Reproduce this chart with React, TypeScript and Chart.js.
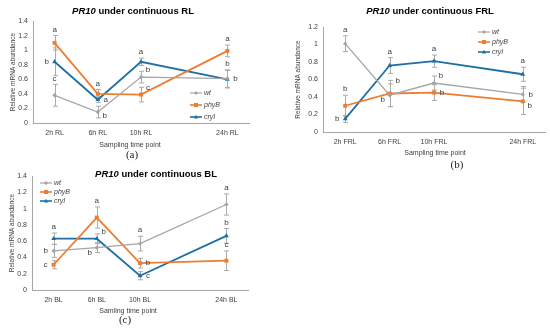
import React, { useEffect, useRef } from 'react';
import { Chart, registerables } from 'chart.js';

Chart.register(...registerables);

// ---------- data ----------
const seriesNames = ['wt', 'phyB', 'cryI'];
const seriesColors = ['#a5a5a5', '#ed7d31', '#1f6fa3'];
const seriesPoints = ['rectRot', 'rect', 'triangle'];

// Panel (a) continuous RL
const rlLabels = ['2h RL', '6h RL', '10h RL', '', '24h RL'];
const rlWt = [0.38, 0.15, 0.63, null, 0.61];
const rlWtErr = [0.15, 0.08, 0.08, null, 0.12];
const rlPhyB = [1.1, 0.4, 0.39, null, 0.99];
const rlPhyBErr = [0.1, 0.06, 0.1, null, 0.08];
const rlCryI = [0.84, 0.32, 0.84, null, 0.6];
const rlCryIErr = [0.19, 0.04, 0.05, null, 0.12];
const rlWtLetters = ['c', 'b', 'b', null, 'b'];
const rlPhyBLetters = ['a', 'a', 'c', null, 'a'];
const rlCryILetters = ['b', 'a', 'a', null, 'b'];

// Panel (b) continuous FRL
const frlLabels = ['2h FRL', '6h FRL', '10h FRL', '', '24h FRL'];
const frlWt = [1.01, 0.42, 0.56, null, 0.43];
const frlWtErr = [0.09, 0.13, 0.08, null, 0.09];
const frlPhyB = [0.3, 0.44, 0.45, null, 0.35];
const frlPhyBErr = [0.12, 0.15, 0.09, null, 0.15];
const frlCryI = [0.15, 0.76, 0.81, null, 0.66];
const frlCryIErr = [0.04, 0.09, 0.07, null, 0.08];
const frlWtLetters = ['a', 'b', 'b', null, 'b'];
const frlPhyBLetters = ['b', 'b', 'b', null, 'b'];
const frlCryILetters = ['b', 'a', 'a', null, 'a'];

// Panel (c) continuous BL
const blLabels = ['2h BL', '6h BL', '10h BL', '', '24h BL'];
const blWt = [0.48, 0.52, 0.57, null, 1.05];
const blWtErr = [0.08, 0.06, 0.09, null, 0.13];
const blPhyB = [0.31, 0.89, 0.33, null, 0.36];
const blPhyBErr = [0.05, 0.13, 0.06, null, 0.12];
const blCryI = [0.63, 0.63, 0.175, null, 0.665];
const blCryIErr = [0.07, 0.06, 0.05, null, 0.09];
const blWtLetters = ['b', 'b', 'a', null, 'a'];
const blPhyBLetters = ['c', 'a', 'b', null, 'c'];
const blCryILetters = ['a', 'b', 'c', null, 'b'];

// ---------- layout / style ----------
const FONT = "'Liberation Sans', Arial, sans-serif";
const TEXT = '#404040';

type Panel = {
  left: number; top: number; w: number; h: number;
  labels: string[];
  values: (number | null)[][];
  errors: (number | null)[][];
  letters: (string | null)[][];
  places: (string | null)[][];
  yMax: number;
  pad: { left: number; top: number; right: number; bottom: number };
  yWidth: number; xHeight: number;
  title: string; titleX: number; titleY: number;
  xTitle: string; xTitleX: number; xTitleY: number;
  tag: string; tagX: number; tagY: number;
  legendX: number; legendY: number; legendGap: number;
};

const panels: Panel[] = [
  {
    left: 0, top: 0, w: 275, h: 165,
    labels: rlLabels,
    values: [rlWt, rlPhyB, rlCryI],
    errors: [rlWtErr, rlPhyBErr, rlCryIErr],
    letters: [rlWtLetters, rlPhyBLetters, rlCryILetters],
    places: [
      ['top', 'belowRight', 'aboveRight', null, 'top'],
      ['top', 'top', 'aboveRight', null, 'top'],
      ['left', 'right', 'top', null, 'right'],
    ],
    yMax: 1.4,
    pad: { left: 9, top: 21, right: 26, bottom: 10 },
    yWidth: 24, xHeight: 32,
    title: ' under continuous RL', titleX: 133, titleY: 11,
    xTitle: 'Sampling time point', xTitleX: 130, xTitleY: 145,
    tag: '(a)', tagX: 132, tagY: 155,
    legendX: 190, legendY: 93, legendGap: 12,
  },
  {
    left: 275, top: 0, w: 275, h: 175,
    labels: frlLabels,
    values: [frlWt, frlPhyB, frlCryI],
    errors: [frlWtErr, frlPhyBErr, frlCryIErr],
    letters: [frlWtLetters, frlPhyBLetters, frlCryILetters],
    places: [
      ['top', 'belowLeft', 'aboveRight', null, 'right'],
      ['top', 'aboveRight2', 'right', null, 'belowRight'],
      ['left', 'top', 'top', null, 'top'],
    ],
    yMax: 1.2,
    pad: { left: 19, top: 27, right: 5, bottom: 20 },
    yWidth: 29, xHeight: 23,
    title: ' under continuous FRL', titleX: 155, titleY: 11,
    xTitle: 'Sampling time point', xTitleX: 160, xTitleY: 153,
    tag: '(b)', tagX: 182, tagY: 165,
    legendX: 203, legendY: 32, legendGap: 10,
  },
  {
    left: 0, top: 165, w: 275, h: 166,
    labels: blLabels,
    values: [blWt, blPhyB, blCryI],
    errors: [blWtErr, blPhyBErr, blCryIErr],
    letters: [blWtLetters, blPhyBLetters, blCryILetters],
    places: [
      ['left', 'belowLeft', 'top', null, 'top'],
      ['left', 'top', 'right', null, 'top'],
      ['top', 'aboveRight', 'right', null, 'top'],
    ],
    yMax: 1.4,
    pad: { left: 8, top: 11, right: 27, bottom: 10 },
    yWidth: 24, xHeight: 31,
    title: ' under continuous BL', titleX: 156, titleY: 9,
    xTitle: 'Samling time point', xTitleX: 128, xTitleY: 146,
    tag: '(c)', tagX: 125, tagY: 155,
    legendX: 40, legendY: 18, legendGap: 9,
  },
];

const letterOffsets: Record<string, [number, number]> = {
  left: [-8, 0],
  right: [8, 0],
  aboveRight: [7, -7],
  aboveRight2: [8, -13],
  belowRight: [7, 4],
  belowLeft: [-7, 5],
};

function drawMarker(ctx: CanvasRenderingContext2D, style: string, x: number, y: number, r: number, color: string) {
  ctx.save();
  ctx.fillStyle = color;
  ctx.beginPath();
  if (style === 'rect') {
    ctx.rect(x - r, y - r, 2 * r, 2 * r);
  } else if (style === 'triangle') {
    ctx.moveTo(x, y - r * 1.1);
    ctx.lineTo(x + r, y + r * 0.8);
    ctx.lineTo(x - r, y + r * 0.8);
    ctx.closePath();
  } else {
    ctx.moveTo(x, y - r);
    ctx.lineTo(x + r, y);
    ctx.lineTo(x, y + r);
    ctx.lineTo(x - r, y);
    ctx.closePath();
  }
  ctx.fill();
  ctx.restore();
}

const decorPlugin = {
  id: 'decor',
  beforeDatasetsDraw(chart: any) {
    const p: Panel = chart.options.plugins.decor.panel;
    const ctx = chart.ctx as CanvasRenderingContext2D;
    const ys = chart.scales.y;
    ctx.save();
    ctx.strokeStyle = '#ababab';
    ctx.lineWidth = 1;
    p.values.forEach((vals, d) => {
      const meta = chart.getDatasetMeta(d);
      vals.forEach((v, i) => {
        const e = p.errors[d][i];
        if (v == null || e == null) return;
        const x = Math.round(meta.data[i].x) + 0.5;
        const y1 = ys.getPixelForValue(v + e);
        const y2 = ys.getPixelForValue(Math.max(0, v - e));
        ctx.beginPath();
        ctx.moveTo(x, y1); ctx.lineTo(x, y2);
        ctx.moveTo(x - 2.5, y1); ctx.lineTo(x + 2.5, y1);
        ctx.moveTo(x - 2.5, y2); ctx.lineTo(x + 2.5, y2);
        ctx.stroke();
      });
    });
    ctx.restore();
  },
  afterDatasetsDraw(chart: any) {
    const p: Panel = chart.options.plugins.decor.panel;
    const ctx = chart.ctx as CanvasRenderingContext2D;
    const ys = chart.scales.y;
    ctx.save();
    // significance letters
    ctx.font = `8px ${FONT}`;
    ctx.fillStyle = TEXT;
    ctx.textAlign = 'center';
    ctx.textBaseline = 'middle';
    p.values.forEach((vals, d) => {
      const meta = chart.getDatasetMeta(d);
      vals.forEach((v, i) => {
        const letter = p.letters[d][i];
        const place = p.places[d][i];
        if (v == null || !letter || !place) return;
        const x = meta.data[i].x;
        const y = meta.data[i].y;
        if (place === 'top') {
          const e = p.errors[d][i] || 0;
          ctx.fillText(letter, x, ys.getPixelForValue(v + e) - 6);
        } else {
          const [dx, dy] = letterOffsets[place];
          ctx.fillText(letter, x + dx, y + dy);
        }
      });
    });
    // legend
    ctx.textAlign = 'left';
    ctx.font = `italic 7px ${FONT}`;
    seriesNames.forEach((name, d) => {
      const y = p.legendY + d * p.legendGap;
      ctx.strokeStyle = seriesColors[d];
      ctx.lineWidth = d === 0 ? 1.2 : 1.6;
      ctx.beginPath();
      ctx.moveTo(p.legendX, y); ctx.lineTo(p.legendX + 12, y);
      ctx.stroke();
      drawMarker(ctx, seriesPoints[d], p.legendX + 6, y, 2, seriesColors[d]);
      ctx.fillStyle = TEXT;
      ctx.fillText(name, p.legendX + 14, y + 0.5);
    });
    // title (italic gene name + bold text)
    ctx.fillStyle = '#000000';
    ctx.textBaseline = 'middle';
    const fItal = `italic bold 9.5px ${FONT}`;
    const fBold = `bold 9.5px ${FONT}`;
    ctx.font = fItal;
    const w1 = ctx.measureText('PR10').width;
    ctx.font = fBold;
    const w2 = ctx.measureText(p.title).width;
    const x0 = p.titleX - (w1 + w2) / 2;
    ctx.font = fItal;
    ctx.fillText('PR10', x0, p.titleY);
    ctx.font = fBold;
    ctx.fillText(p.title, x0 + w1, p.titleY);
    // x-axis title
    ctx.textAlign = 'center';
    ctx.fillStyle = TEXT;
    ctx.font = `7px ${FONT}`;
    ctx.fillText(p.xTitle, p.xTitleX, p.xTitleY);
    // panel tag
    ctx.fillStyle = '#222222';
    ctx.font = `11px 'Liberation Serif', 'DejaVu Serif', serif`;
    ctx.fillText(p.tag, p.tagX, p.tagY);
    ctx.restore();
  },
};

function PanelChart({ p }: { p: Panel }) {
  const ref = useRef<HTMLCanvasElement>(null);
  useEffect(() => {
    if (!ref.current) return;
    const chart = new Chart(ref.current, {
      type: 'line',
      data: {
        labels: p.labels,
        datasets: seriesNames.map((name, d) => ({
          label: name,
          data: p.values[d],
          borderColor: seriesColors[d],
          backgroundColor: seriesColors[d],
          borderWidth: d === 0 ? 1.3 : 1.8,
          pointStyle: seriesPoints[d] as any,
          pointRadius: d === 0 ? 2.2 : 2.8,
          pointBorderWidth: 0,
          pointBackgroundColor: seriesColors[d],
          spanGaps: true,
          tension: 0,
        })),
      },
      options: {
        responsive: false,
        animation: false,
        layout: { padding: p.pad },
        plugins: {
          legend: { display: false },
          tooltip: { enabled: false },
          title: { display: false },
          decor: { panel: p },
        } as any,
        scales: {
          x: {
            type: 'category',
            offset: true,
            grid: { display: false, drawTicks: false },
            border: { display: true, color: '#a6a6a6', width: 1 },
            ticks: {
              padding: 6,
              color: TEXT,
              font: { family: FONT, size: 7 },
              autoSkip: false,
              maxRotation: 0,
            },
            afterFit: (s: any) => { s.height = p.xHeight; },
          },
          y: {
            min: 0,
            max: p.yMax,
            grid: { display: false, drawTicks: false },
            border: { display: true, color: '#a6a6a6', width: 1 },
            ticks: {
              stepSize: 0.2,
              padding: 5,
              color: TEXT,
              font: { family: FONT, size: 7 },
              callback: (v: any) => String(Number(Number(v).toFixed(1))),
            },
            title: {
              display: true,
              text: 'Relative mRNA abundance',
              color: TEXT,
              font: { family: FONT, size: 6.5 },
              padding: { top: 0, bottom: 0 },
            },
            afterFit: (s: any) => { s.width = p.yWidth; },
          },
        },
      },
      plugins: [decorPlugin],
    });
    return () => chart.destroy();
  }, [p]);
  return (
    <canvas
      ref={ref}
      width={p.w}
      height={p.h}
      style={{ position: 'absolute', left: p.left, top: p.top, width: p.w, height: p.h }}
    />
  );
}

export default function App() {
  return (
    <div style={{ position: 'fixed', left: 0, top: 0, width: 550, height: 331, background: '#ffffff', overflow: 'hidden' }}>
      {panels.map((p, i) => (
        <PanelChart key={i} p={p} />
      ))}
    </div>
  );
}
